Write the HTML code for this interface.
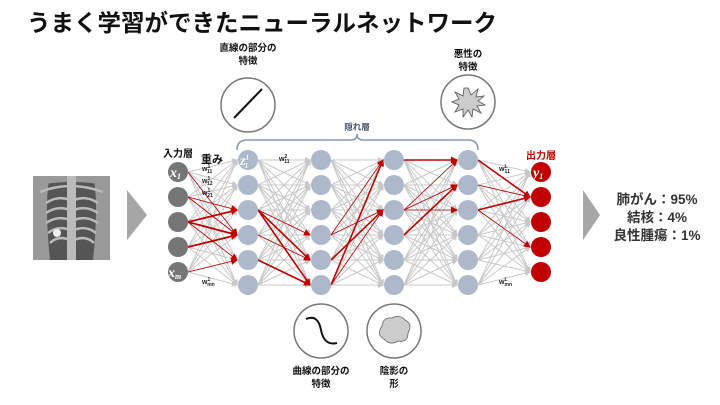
<!DOCTYPE html>
<html><head><meta charset="utf-8"><style>
html,body{margin:0;padding:0;background:#fff;}
svg{display:block;}
text{font-family:"Liberation Sans","Noto Sans CJK JP",sans-serif;font-weight:bold;}
</style></head><body>
<svg id="s" width="720" height="405" viewBox="0 0 720 405" xmlns="http://www.w3.org/2000/svg">
<defs>
<marker id="ag" markerUnits="userSpaceOnUse" markerWidth="6" markerHeight="6" refX="5" refY="3" orient="auto"><path d="M0,0L6,3L0,6z" fill="#c8c8c8"/></marker>
<marker id="ar" markerUnits="userSpaceOnUse" markerWidth="7" markerHeight="7" refX="6" refY="3.5" orient="auto"><path d="M0,0L7,3.5L0,7z" fill="#c00000"/></marker>
</defs>
<text x="27" y="31" font-size="23.5" fill="#111">うまく学習ができたニューラルネットワーク</text>
<g id="gray" stroke="#c8c8c8" stroke-width="1"></g>
<g id="red" stroke="#c00000" fill="none"></g>
<g id="nodes"></g>
<!-- xray -->
<rect x="33" y="176" width="77" height="84" fill="#555"/>
<path d="M33,176 L50,176 Q44,200 50,260 L33,260Z" fill="#999"/>
<path d="M110,176 L93,176 Q99,200 93,260 L110,260Z" fill="#999"/>
<path d="M33,176 L110,176 L110,186 Q72,178 33,186Z" fill="#999"/>
<rect x="67" y="176" width="9" height="84" fill="#bbb"/>
<g stroke="#bbb" stroke-width="2.5" fill="none">
<path d="M40,192 Q70,180 103,192"/>
<path d="M46,203 Q58,195 70,200"/><path d="M74,200 Q86,195 98,203"/>
<path d="M46,213 Q58,205 70,210"/><path d="M74,210 Q86,205 98,213"/>
<path d="M46,223 Q58,215 70,220"/><path d="M74,220 Q86,215 98,223"/>
<path d="M48,233 Q58,225 70,230"/><path d="M74,230 Q86,225 96,233"/>
<path d="M50,243 Q58,235 70,240"/><path d="M74,240 Q86,235 94,243"/>
</g>
<circle cx="57" cy="233" r="4" fill="#eee"/>
<polygon points="127,190 147,215 127,240" fill="#a6a6a6"/>
<polygon points="583,190 600,215 583,240" fill="#a6a6a6"/>
<text x="657" y="204" font-size="13.5" fill="#333" text-anchor="middle">肺がん：95%</text>
<text x="657" y="222" font-size="13.5" fill="#333" text-anchor="middle">結核：4%</text>
<text x="657" y="240" font-size="13.5" fill="#333" text-anchor="middle">良性腫瘍：1%</text>
<!-- labels -->
<text x="178" y="157" font-size="10" fill="#111" text-anchor="middle">入力層</text>
<text x="212" y="163" font-size="11" fill="#111" text-anchor="middle">重み</text>
<text x="541" y="159" font-size="10" fill="#c00000" text-anchor="middle">出力層</text>
<text x="357" y="130" font-size="8.5" fill="#44546a" text-anchor="middle">隠れ層</text>
<path d="M237,150 Q237,140 247,140 L351,140 Q357,140 357,134 Q357,140 363,140 L468,140 Q478,140 478,150" stroke="#8497b0" stroke-width="1.5" fill="none"/>
<g font-size="7" fill="#222">
<text x="202" y="171">w<tspan font-size="5" dy="-3">1</tspan><tspan font-size="5" dx="-3" dy="5">11</tspan></text>
<text x="202" y="183">w<tspan font-size="5" dy="-3">1</tspan><tspan font-size="5" dx="-3" dy="5">12</tspan></text>
<text x="202" y="195">w<tspan font-size="5" dy="-3">1</tspan><tspan font-size="5" dx="-3" dy="5">21</tspan></text>
<text x="202" y="284">w<tspan font-size="5" dy="-3">1</tspan><tspan font-size="5" dx="-3" dy="5">mn</tspan></text>
<text x="279" y="161">w<tspan font-size="5" dy="-3">2</tspan><tspan font-size="5" dx="-3" dy="5">11</tspan></text>
<text x="499" y="171">w<tspan font-size="5" dy="-3">L</tspan><tspan font-size="5" dx="-3" dy="5">11</tspan></text>
<text x="499" y="284">w<tspan font-size="5" dy="-3">L</tspan><tspan font-size="5" dx="-3" dy="5">mn</tspan></text>
</g>
<!-- feature icons -->
<text x="248" y="51" font-size="9.5" fill="#111" text-anchor="middle">直線の部分の</text>
<text x="248" y="64" font-size="9.5" fill="#111" text-anchor="middle">特徴</text>
<circle cx="248" cy="105" r="27" fill="#fff" stroke="#777" stroke-width="1.5"/>
<line x1="234" y1="118" x2="262" y2="89" stroke="#111" stroke-width="2"/>
<text x="468" y="57" font-size="9.5" fill="#111" text-anchor="middle">悪性の</text>
<text x="468" y="70" font-size="9.5" fill="#111" text-anchor="middle">特徴</text>
<circle cx="468" cy="102" r="27" fill="#fff" stroke="#777" stroke-width="1.5"/>
<polygon points="468,88 471,95 478,89 476,97 484,96 478,101 485,105 477,106 481,113 473,109 472,117 468,110 463,117 463,109 455,112 459,105 452,102 459,99 455,92 463,96 464,88" fill="#ccc" stroke="#555" stroke-width="0.8"/>
<circle cx="321" cy="331" r="27" fill="#fff" stroke="#777" stroke-width="1.5"/>
<path d="M306,319 Q318,314 321,330 Q324,346 337,343" stroke="#111" stroke-width="2" fill="none"/>
<circle cx="394" cy="331" r="27" fill="#fff" stroke="#777" stroke-width="1.5"/>
<path d="M382,326 Q383,317 392,318 Q400,314 405,320 Q413,324 408,333 Q408,343 398,341 Q390,346 384,339 Q376,335 382,326Z" fill="#ccc" stroke="#666" stroke-width="0.8"/>
<text x="321" y="374" font-size="9.5" fill="#111" text-anchor="middle">曲線の部分の</text>
<text x="321" y="387" font-size="9.5" fill="#111" text-anchor="middle">特徴</text>
<text x="394" y="374" font-size="9.5" fill="#111" text-anchor="middle">陰影の</text>
<text x="394" y="387" font-size="9.5" fill="#111" text-anchor="middle">形</text>
<g font-family="Liberation Serif" fill="#fff">
<text x="170" y="177" font-size="14" style="font-family:'Liberation Serif';font-style:italic">x<tspan font-size="8" dy="2">1</tspan></text>
<text x="168" y="277" font-size="14" style="font-family:'Liberation Serif';font-style:italic">x<tspan font-size="8" dy="2">m</tspan></text>
<text x="240" y="165" font-size="14" style="font-family:'Liberation Serif';font-style:italic">z<tspan font-size="7" dy="-5">1</tspan><tspan font-size="7" dx="-4" dy="8">1</tspan></text>
<text x="533" y="177" font-size="14" style="font-family:'Liberation Serif';font-style:italic">y<tspan font-size="8" dy="2">1</tspan></text>
</g>
</svg>
<script>
var NS="http://www.w3.org/2000/svg";
var L=[{x:178,ys:[172,197,222,247,272],c:"#767676"}];
var hy=[160,185,210,235,260,285];
[248,321,394,468].forEach(function(x){L.push({x:x,ys:hy,c:"#adb9ca"});});
L.push({x:541,ys:[172,197,222,247,272],c:"#c00000"});
var g=document.getElementById("gray"),r=document.getElementById("red"),n=document.getElementById("nodes");
function ln(p,x1,y1,x2,y2,m,w){var e=document.createElementNS(NS,"line");e.setAttribute("x1",x1);e.setAttribute("y1",y1);e.setAttribute("x2",x2);e.setAttribute("y2",y2);e.setAttribute("marker-end","url(#"+m+")");if(w)e.setAttribute("stroke-width",w);p.appendChild(e);}
for(var i=0;i<L.length-1;i++){var a=L[i],b=L[i+1];a.ys.forEach(function(y1){b.ys.forEach(function(y2){ln(g,a.x+10,y1,b.x-11,y2,"ag");});});}
var R=[[0,0,3,0.8],[0,1,3,0.8],[0,2,2,1.8],[0,2,3,1.8],[0,2,4,0.8],[0,3,3,1.8],[0,4,4,0.8],[0,1,2,0.8],
[1,2,4,1.6],[1,2,5,1.6],[1,2,3,0.8],[1,3,4,0.8],[1,4,5,1.6],
[2,5,0,1.6],[2,4,2,1.6],[2,3,2,0.8],[2,5,2,0.8],[2,3,0,0.8],
[3,0,0,1.6],[3,2,1,0.8],[3,2,0,0.8],[3,2,2,0.8],[3,3,1,1.6],
[4,0,1,1.6],[4,1,1,0.8],[4,2,1,1.6],[4,2,3,0.8]];
R.forEach(function(q){var a=L[q[0]],b=L[q[0]+1];ln(r,a.x+10,a.ys[q[1]],b.x-11,b.ys[q[2]],"ar",q[3]);});
L.forEach(function(l){l.ys.forEach(function(y){var c=document.createElementNS(NS,"circle");c.setAttribute("cx",l.x);c.setAttribute("cy",y);c.setAttribute("r",10);c.setAttribute("fill",l.c);n.appendChild(c);});});
</script>
</body></html>
